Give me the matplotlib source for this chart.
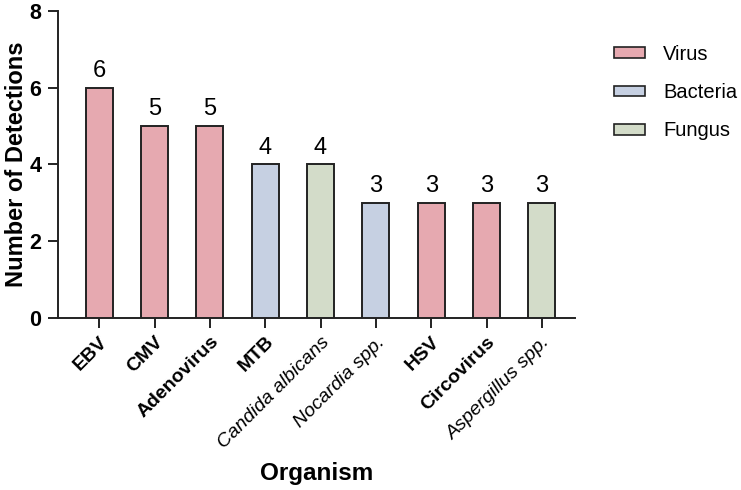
import matplotlib
matplotlib.use("Agg")
import matplotlib.pyplot as plt
from matplotlib.patches import Patch

organisms = ["EBV", "CMV", "Adenovirus", "MTB", "Candida albicans",
             "Nocardia spp.", "HSV", "Circovirus", "Aspergillus spp."]
detections = [6, 5, 5, 4, 4, 3, 3, 3, 3]
groups = ["Virus", "Virus", "Virus", "Bacteria", "Fungus",
          "Bacteria", "Virus", "Virus", "Fungus"]
italic_labels = ["Candida albicans", "Nocardia spp.", "Aspergillus spp."]
legend_order = ["Virus", "Bacteria", "Fungus"]
colors = {"Virus": "#E6A9B0", "Bacteria": "#C6D0E2", "Fungus": "#D3DCC9"}

plt.rcParams['font.family'] = ['Liberation Sans', 'DejaVu Sans']

fig = plt.figure(figsize=(7.41, 4.90), dpi=100)
ax = fig.add_axes([0.078, 0.351, 0.698, 0.627])

x = list(range(len(organisms)))
ax.bar(x, detections, width=0.49, color=[colors[g] for g in groups],
       edgecolor="#222222", linewidth=1.4, zorder=3)

for xi, v in zip(x, detections):
    ax.text(xi, v + 0.15, str(v), ha="center", va="bottom", fontsize=17)

ax.set_xlim(-0.75, 8.6)
ax.set_ylim(0, 8)
ax.set_yticks([0, 2, 4, 6, 8])
ax.set_xticks(x)
ax.set_xticklabels(organisms, rotation=45, ha="right", rotation_mode="anchor",
                   fontsize=14)
for lbl in ax.get_xticklabels():
    if lbl.get_text() in italic_labels:
        lbl.set_fontstyle("italic")
    else:
        lbl.set_fontweight("bold")
for lbl in ax.get_yticklabels():
    lbl.set_fontweight("bold")
    lbl.set_fontsize(15.5)

for s in ["top", "right"]:
    ax.spines[s].set_visible(False)
for s in ["left", "bottom"]:
    ax.spines[s].set_linewidth(1.4)
    ax.spines[s].set_color("#222222")
ax.tick_params(axis="both", width=1.4, length=7, color="#222222")
ax.tick_params(axis="x", pad=4)
ax.tick_params(axis="y", pad=5)

ax.set_ylabel("Number of Detections", fontsize=17, fontweight="bold")
ax.yaxis.set_label_coords(-0.058, 0.5)
ax.set_xlabel("Organism", fontsize=17.5, fontweight="bold", labelpad=8)

handles = [Patch(facecolor=colors[g], edgecolor="#222222", linewidth=1.2, label=g)
           for g in legend_order]
fig.legend(handles=handles, loc="upper left", bbox_to_anchor=(0.804, 0.945),
           frameon=False, fontsize=14.5, handlelength=1.55, handleheight=0.45,
           labelspacing=0.95, handletextpad=0.9)

fig.savefig("out.png", dpi=100)
